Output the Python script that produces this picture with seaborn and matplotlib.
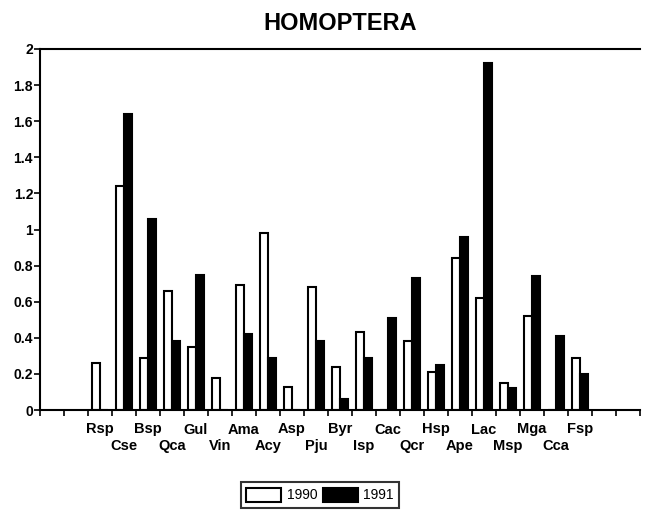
import numpy as np
import pandas as pd
import seaborn as sns
import matplotlib.pyplot as plt

species = ["Rsp", "Cse", "Bsp", "Qca", "Gul", "Vin", "Ama", "Acy", "Asp", "Pju", "Byr",
           "Isp", "Cac", "Qcr", "Hsp", "Ape", "Lac", "Msp", "Mga", "Cca", "Fsp"]
v1990 = [0.26, 1.24, 0.29, 0.66, 0.35, 0.18, 0.69, 0.98, 0.13, 0.68, 0.24,
         0.43, 0.0, 0.38, 0.21, 0.84, 0.62, 0.15, 0.52, 0.0, 0.29]
v1991 = [0.0, 1.64, 1.06, 0.38, 0.75, 0.0, 0.42, 0.29, 0.0, 0.38, 0.06,
         0.29, 0.51, 0.73, 0.25, 0.96, 1.92, 0.12, 0.74, 0.41, 0.20]
years = ["1990", "1991"]
yticks = [0, 0.2, 0.4, 0.6, 0.8, 1, 1.2, 1.4, 1.6, 1.8, 2]

df = pd.DataFrame({
    "species": species * 2,
    "value": v1990 + v1991,
    "year": [years[0]] * len(species) + [years[1]] * len(species),
})

sns.set_style("white")
plt.rcParams['font.family'] = ['Liberation Sans', 'DejaVu Sans']
plt.rcParams['text.color'] = 'black'
plt.rcParams['xtick.color'] = 'black'
plt.rcParams['ytick.color'] = 'black'

fig = plt.figure(figsize=(6.46, 5.17), dpi=100)
ax = fig.add_axes([40/646, 1 - 410/517, 600/646, 361/517])

sns.barplot(data=df, x="species", y="value", hue="year", palette=["white", "black"],
            edgecolor="black", linewidth=1.5, width=0.67, ax=ax)

ax.set_xlim(-2.5, 22.5)
ax.set_ylim(0, 2)
ax.set_xlabel("")
ax.set_ylabel("")

ax.set_xticks(np.arange(-2.5, 23, 1), minor=True)
ax.tick_params(axis="x", which="minor", direction="out", length=4, width=1.2, bottom=True)
ax.set_yticks(yticks)
ax.set_yticklabels([("%g" % t) for t in yticks], fontsize=10, fontweight="bold")
ax.tick_params(axis="y", direction="out", length=4, width=1.2, left=True, pad=1)

ax.set_xticks(range(len(species)))
ax.set_xticklabels(species, fontsize=10.5, fontweight="bold")
ax.tick_params(axis="x", which="major", length=0)
# labels alternate on two rows
for i, t in enumerate(ax.xaxis.get_major_ticks()):
    t.set_pad(9 if i % 2 == 0 else 21)

for s in ["left", "bottom", "top"]:
    ax.spines[s].set_color("black")
    ax.spines[s].set_linewidth(1.5)
ax.spines["right"].set_visible(False)

ax.set_title("HOMOPTERA", fontsize=17, fontweight="bold", pad=14, color="black")

handles, lbls = ax.get_legend_handles_labels()
ax.legend_.remove()
leg = fig.legend(handles, lbls, loc="center", bbox_to_anchor=(320/646, 1 - 495/517), ncol=2,
                 frameon=True, fancybox=False, edgecolor="black", handlelength=2.5,
                 handleheight=1.2, columnspacing=0.4, handletextpad=0.4, borderpad=0.4,
                 prop={"size": 10})
leg.get_frame().set_linewidth(1.5)

fig.savefig("out.png", dpi=100)
